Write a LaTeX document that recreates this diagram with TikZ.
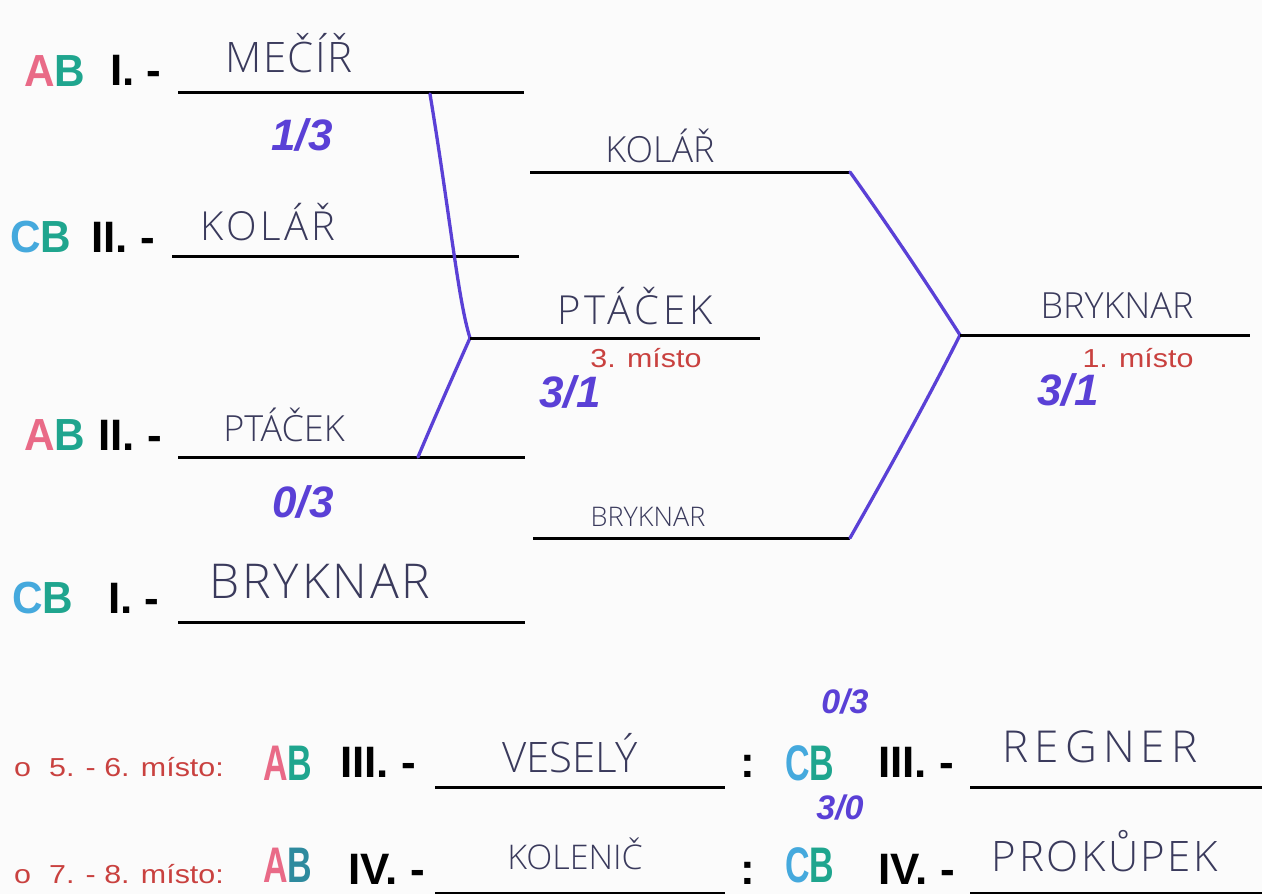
\documentclass[tikz,border=0pt]{standalone}
\usepackage{fontspec}
\setmainfont{Liberation Sans}
\newfontfamily\hand{Open Sans Light}
\newfontfamily\redfont{Liberation Sans}[FakeStretch=1.17]
\newfontfamily\markfont{Liberation Sans Bold}[FakeStretch=0.94]
\newfontfamily\narrowmark{Liberation Sans Bold}[FakeStretch=0.68]
\definecolor{pinkA}{HTML}{E96A87}
\definecolor{tealB}{HTML}{1FA58E}
\definecolor{blueC}{HTML}{45A9DD}
\definecolor{tealD}{HTML}{2E8A9E}
\definecolor{penblue}{HTML}{5A40D6}
\definecolor{inkgray}{HTML}{3A3A5C}
\definecolor{placered}{HTML}{C9413F}
\definecolor{paper}{HTML}{FBFBFB}
\newcommand{\handat}[2]{\hand\fontsize{#1}{#1}\selectfont\addfontfeature{LetterSpace=#2}}
\tikzset{
  blackrule/.style={line width=3pt, black},
  bluepen/.style={line width=3.3pt, penblue, line join=round, line cap=round},
  hname/.style={font=\hand\fontsize{40}{42}\selectfont, text=inkgray, anchor=base, inner sep=0pt},
  seedlbl/.style={font=\bfseries\fontsize{44}{46}\selectfont, anchor=base west, inner sep=0pt},
  teamlbl/.style={font=\markfont\fontsize{45}{47}\selectfont, anchor=base west, inner sep=0pt},
  bteamlbl/.style={font=\narrowmark\fontsize{50}{52}\selectfont, anchor=base west, inner sep=0pt},
  scorelbl/.style={font=\bfseries\itshape\fontsize{44}{46}\selectfont, text=penblue, inner sep=0pt},
  sscorelbl/.style={font=\bfseries\itshape\fontsize{34}{36}\selectfont, text=penblue, inner sep=0pt},
  placelbl/.style={font=\redfont\fontsize{26}{28}\selectfont, text=placered, anchor=base, inner sep=0pt},
  rowlbl/.style={font=\redfont\fontsize{26}{28}\selectfont, text=placered, anchor=base west, inner sep=0pt},
}
\newcommand{\ABmark}{\textcolor{pinkA}{A}\textcolor{tealB}{B}}
\newcommand{\CBmark}{\textcolor{blueC}{C}\textcolor{tealB}{B}}
\begin{document}
\begin{tikzpicture}[x=1pt,y=-1pt]
\fill[paper] (0,0) rectangle (1262,894);
\useasboundingbox (0,0) rectangle (1262,894);

% ---- first round, left column
\node[teamlbl] (t1) at (24,86) {\ABmark};
\node[seedlbl] (s1) at (110,85) {I. -};
\coordinate (l1a) at (178,92); \coordinate (l1b) at (524,92);
\draw[blackrule] (l1a) -- (l1b);
\node[hname, font=\handat{42}{3}] (n1) at (289,72) {MEČÍŘ};

\node[scorelbl] (sc1) at (302,135) {1/3};

\node[teamlbl] (t2) at (10,252) {\CBmark};
\node[seedlbl] (s2) at (91,252) {II. -};
\coordinate (l2a) at (172,256); \coordinate (l2b) at (519,256);
\draw[blackrule] (l2a) -- (l2b);
\node[hname, font=\handat{40}{8}] (n2) at (268,240) {KOLÁŘ};

\node[teamlbl] (t3) at (24,450) {\ABmark};
\node[seedlbl] (s3) at (98,450) {II. -};
\coordinate (l3a) at (178,457); \coordinate (l3b) at (525,457);
\draw[blackrule] (l3a) -- (l3b);
\node[hname, font=\handat{36}{0}] (n3) at (284,441) {PTÁČEK};

\node[scorelbl] (sc2) at (303,502) {0/3};

\node[teamlbl] (t4) at (12,613) {\CBmark};
\node[seedlbl] (s4) at (108,613) {I. -};
\coordinate (l4a) at (178,622); \coordinate (l4b) at (525,622);
\draw[blackrule] (l4a) -- (l4b);
\node[hname, font=\handat{48}{6}] (n4) at (320,598) {BRYKNAR};

% ---- semifinal joins
\coordinate (m1) at (430,94);
\coordinate (m2) at (418,457);
\coordinate (mj) at (470,338);
\draw[bluepen] (m1) .. controls (450,215) and (458,300) .. (mj);
\draw[bluepen] (m2) .. controls (440,405) and (458,365) .. (mj);

\coordinate (l5b) at (760,338);
\draw[blackrule] (mj) -- (l5b);
\node[hname, font=\handat{40}{10}] (n5) at (635,324) {PTÁČEK};
\node[placelbl] (p3) at (646,367) {3. místo};
\node[scorelbl] (sc3) at (570,392) {3/1};

\coordinate (l6a) at (530,172); \coordinate (l6b) at (850,172);
\draw[blackrule] (l6a) -- (l6b);
\node[hname, font=\handat{36}{0}] (n6) at (660,162) {KOLÁŘ};

\coordinate (l7a) at (533,538); \coordinate (l7b) at (850,538);
\draw[blackrule] (l7a) -- (l7b);
\node[hname, font=\handat{27}{0}] (n7) at (648,526) {BRYKNAR};

% ---- final
\coordinate (fj) at (960,335);
\draw[bluepen] (l6b) .. controls (890,228) and (928,285) .. (fj);
\draw[bluepen] (l7b) .. controls (900,450) and (935,385) .. (fj);
\coordinate (l8b) at (1250,335);
\draw[blackrule] (fj) -- (l8b);
\node[hname, font=\handat{36}{0}] (n8) at (1117,318) {BRYKNAR};
\node[placelbl] (p1) at (1138,367) {1. místo};
\node[scorelbl] (sc4) at (1068,390) {3/1};

% ---- 5.-6. place
\node[rowlbl] (r1) at (14,776) {o\hspace{18pt}5. - 6. místo:};
\node[bteamlbl] (b1) at (263,780) {\ABmark};
\node[seedlbl] (b1s) at (340,777) {III. -};
\coordinate (l9a) at (435,787); \coordinate (l9b) at (725,787);
\draw[blackrule] (l9a) -- (l9b);
\node[hname, font=\handat{42}{0}] (n9) at (570,772) {VESELÝ};
\node[seedlbl] (c1) at (740,777) {:};
\node[bteamlbl] (b2) at (785,780) {\CBmark};
\node[sscorelbl] (sc5) at (845,702) {0/3};
\node[seedlbl] (b2s) at (878,777) {III. -};
\coordinate (l10a) at (970,787); \coordinate (l10b) at (1262,787);
\draw[blackrule] (l10a) -- (l10b);
\node[hname, font=\handat{44}{14}] (n10) at (1100,762) {REGNER};

% ---- 7.-8. place
\node[rowlbl] (r2) at (14,883) {o\hspace{18pt}7. - 8. místo:};
\node[bteamlbl] (b3) at (263,882) {\textcolor{pinkA}{A}\textcolor{tealD}{B}};
\node[seedlbl] (b3s) at (348,884) {IV. -};
\coordinate (l11a) at (435,893); \coordinate (l11b) at (725,893);
\draw[blackrule] (l11a) -- (l11b);
\node[hname, font=\handat{34}{0}] (n11) at (575,869) {KOLENIČ};
\node[seedlbl] (c2) at (740,884) {:};
\node[bteamlbl] (b4) at (785,882) {\CBmark};
\node[sscorelbl] (sc6) at (840,808) {3/0};
\node[seedlbl] (b4s) at (878,884) {IV. -};
\coordinate (l12a) at (970,893); \coordinate (l12b) at (1262,893);
\draw[blackrule] (l12a) -- (l12b);
\node[hname, font=\handat{42}{6}] (n12) at (1105,871) {PROKŮPEK};
\end{tikzpicture}
\end{document}
